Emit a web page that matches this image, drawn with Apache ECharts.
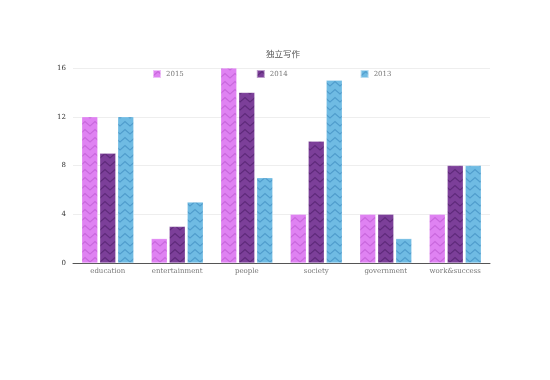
<!DOCTYPE html>
<html><head><meta charset="utf-8">
<script src="https://cdn.jsdelivr.net/npm/echarts@6/dist/echarts.min.js"></script>
<style>html,body{margin:0;padding:0;background:#fff}#c{width:550px;height:380px}</style>
</head><body><div id="c"></div>
<script>
var categories = ['education','entertainment','people','society','government','work&success'];
var seriesNames = ['2015','2014','2013'];
var v2015 = [12, 2, 16, 4, 4, 4];
var v2014 = [9, 3, 14, 10, 4, 8];
var v2013 = [12, 5, 7, 15, 2, 8];
var yTicks = [0, 4, 8, 12, 16];

function zig(fill, stroke) {
  var c = document.createElement('canvas');
  c.width = 10; c.height = 8;
  var g = c.getContext('2d');
  g.fillStyle = fill; g.fillRect(0, 0, 10, 8);
  g.strokeStyle = stroke; g.lineWidth = 1.2;
  g.beginPath(); g.moveTo(-0.5, 6.5); g.lineTo(5, 1.5); g.lineTo(10.5, 6.5); g.stroke();
  return { image: c, repeat: 'repeat' };
}
var fills = [zig('#df82f2', '#c868dc'), zig('#7c3f99', '#5e2a7a'), zig('#6fbbe3', '#4f9ccc')];
var data = [v2015, v2014, v2013];

var chart = echarts.init(document.getElementById('c'));
var font = '"DejaVu Serif", serif';
chart.setOption({
  animation: false,
  textStyle: { fontFamily: font },
  title: { text: '独立写作', left: 261, top: 45,
    textStyle: { fontSize: 8.5, fontWeight: 'normal', color: '#555', fontFamily: '"Noto Sans CJK SC", serif' } },
  legend: { top: 64, left: 147, itemWidth: 8, itemHeight: 8, itemGap: 72, icon: 'rect',
    textStyle: { fontSize: 7, color: '#777', fontFamily: font }, data: seriesNames },
  grid: { left: 73, right: 60, top: 68, bottom: 117 },
  xAxis: { type: 'category', data: categories,
    axisLine: { lineStyle: { color: '#555', width: 1 } }, axisTick: { show: false },
    axisLabel: { fontSize: 7, color: '#777', margin: 5, interval: 0 } },
  yAxis: { type: 'value', min: yTicks[0], max: yTicks[yTicks.length - 1], interval: 4,
    axisLine: { show: false }, axisTick: { show: false },
    axisLabel: { fontSize: 7, color: '#333', margin: 7 },
    splitLine: { lineStyle: { color: '#eee' } } },
  series: seriesNames.map(function (n, i) {
    return { name: n, type: 'bar', data: data[i], barWidth: 16, barGap: '12.5%',
      itemStyle: { color: fills[i], borderColor: 'rgba(255,255,255,0.5)', borderWidth: 0.5 } };
  })
});
</script></body></html>
